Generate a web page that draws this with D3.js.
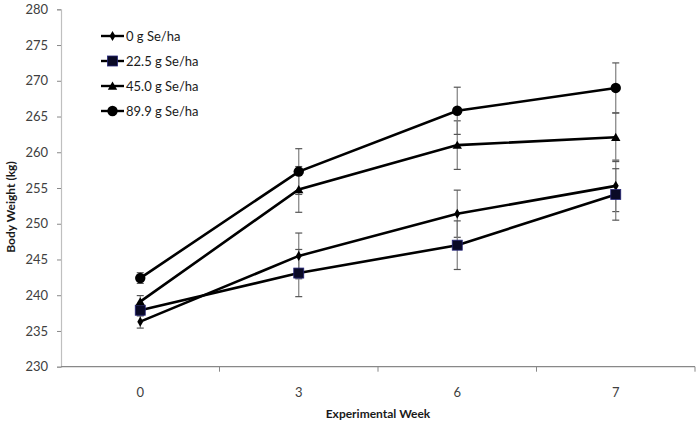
<!DOCTYPE html>
<html><head><meta charset="utf-8">
<script src="https://cdn.jsdelivr.net/npm/d3@7"></script>
<style>
html,body{margin:0;padding:0;background:#fff;}
svg{display:block;}
text{font-family:Lato,"Open Sans",sans-serif;}
</style></head>
<body>
<svg id="chart" width="699" height="426"></svg>
<script>
const weeks = ["0","3","6","7"];
const seriesNames = ["0 g Se/ha","22.5 g Se/ha","45.0 g Se/ha","89.9 g Se/ha"];
const s0 = [236.3, 245.5, 251.4, 255.3];
const s225 = [237.9, 243.1, 247.0, 254.1];
const s45 = [239.1, 254.8, 261.0, 262.1];
const s899 = [242.4, 257.3, 265.8, 269.0];
const e0 = [0.9, 3.2, 3.3, 3.6];
const e225 = [0.8, 3.3, 3.4, 3.6];
const e45 = [0.85, 3.2, 3.4, 3.4];
const e899 = [0.75, 3.2, 3.3, 3.5];
const markers = ["diamond","square","triangle","circle"];
const yTicks = [230,235,240,245,250,255,260,265,270,275,280];

const series = [
  {name: seriesNames[0], vals: s0, errs: e0, m: markers[0]},
  {name: seriesNames[1], vals: s225, errs: e225, m: markers[1]},
  {name: seriesNames[2], vals: s45, errs: e45, m: markers[2]},
  {name: seriesNames[3], vals: s899, errs: e899, m: markers[3]}
];

const svg = d3.select("#chart");
const x = d3.scaleBand().domain(weeks).range([61, 695]).padding(0);
const y = d3.scaleLinear().domain([230, 280]).range([366.7, 9.3]);
const cx = w => x(w) + x.bandwidth() / 2;

// Y axis
const yAxis = svg.append("g").attr("transform", "translate(61,0)")
  .call(d3.axisLeft(y).tickValues(yTicks).tickSize(4).tickPadding(9).tickFormat(d3.format("d")));
yAxis.select(".domain").attr("stroke", "#bfbfbf").attr("stroke-width", 1.2);
yAxis.selectAll(".tick line").attr("stroke", "#888");
yAxis.selectAll(".tick text").attr("fill", "#404040").style("font-size", "13px").style("font-family", "Lato, sans-serif");

// X axis
const xg = svg.append("g").attr("transform", "translate(0,366.7)");
xg.append("line").attr("x1", 61).attr("x2", 695).attr("y1", 0).attr("y2", 0)
  .attr("stroke", "#888").attr("stroke-width", 1.2);
xg.selectAll(".xt").data(weeks).enter().append("line")
  .attr("x1", d => x(d) + x.bandwidth()).attr("x2", d => x(d) + x.bandwidth())
  .attr("y1", 0).attr("y2", 5).attr("stroke", "#888");
xg.selectAll(".xl").data(weeks).enter().append("text")
  .attr("x", d => cx(d)).attr("y", 30).attr("text-anchor", "middle")
  .attr("fill", "#404040").style("font-size", "13px").text(d => d);

// Axis titles
svg.append("text").attr("x", 378).attr("y", 418).attr("text-anchor", "middle")
  .style("font-size", "12px").style("font-weight", "bold").attr("fill", "#1a1a1a")
  .text("Experimental Week");
svg.append("text").attr("transform", "translate(15,207) rotate(-90)").attr("text-anchor", "middle")
  .style("font-size", "12px").style("font-weight", "bold").attr("fill", "#1a1a1a")
  .text("Body Weight (kg)");

// Lines
const line = d3.line().x((d, i) => cx(weeks[i])).y(d => y(d));
series.forEach(s => {
  svg.append("path").datum(s.vals).attr("d", line)
    .attr("fill", "none").attr("stroke", "#000").attr("stroke-width", 2.6);
});

// Error bars
series.forEach(s => {
  const g = svg.append("g");
  s.vals.forEach((v, i) => {
    const px = cx(weeks[i]);
    const top = y(v + s.errs[i]), bot = y(v - s.errs[i]);
    g.append("line").attr("x1", px).attr("x2", px).attr("y1", top).attr("y2", bot)
      .attr("stroke", "#7f7f7f").attr("stroke-width", 1.2);
    [top, bot].forEach(yy => g.append("line").attr("x1", px - 3.5).attr("x2", px + 3.5)
      .attr("y1", yy).attr("y2", yy).attr("stroke", "#555").attr("stroke-width", 1.2));
  });
});

function drawMarker(g, m, px, py, scale) {
  scale = scale || 1;
  if (m === "diamond") {
    g.append("path").attr("d", d3.symbol(d3.symbolDiamond, 30 * scale)())
      .attr("transform", `translate(${px},${py})`).attr("fill", "#000");
  } else if (m === "square") {
    const s = 10 * Math.sqrt(scale);
    g.append("rect").attr("x", px - s / 2).attr("y", py - s / 2).attr("width", s).attr("height", s)
      .attr("fill", "#0a0a26").attr("stroke", "#26267a").attr("stroke-width", 0.8);
  } else if (m === "triangle") {
    g.append("path").attr("d", d3.symbol(d3.symbolTriangle, 38 * scale)())
      .attr("transform", `translate(${px},${py + 1})`).attr("fill", "#000");
  } else {
    g.append("circle").attr("cx", px).attr("cy", py).attr("r", 5.2 * Math.sqrt(scale)).attr("fill", "#000");
  }
}

// Markers
series.forEach(s => {
  const g = svg.append("g");
  s.vals.forEach((v, i) => drawMarker(g, s.m, cx(weeks[i]), y(v)));
});

// Legend
const legY = [36, 61, 86, 111];
series.forEach((s, i) => {
  const g = svg.append("g");
  g.append("line").attr("x1", 101).attr("x2", 124).attr("y1", legY[i]).attr("y2", legY[i])
    .attr("stroke", "#000").attr("stroke-width", 2.4);
  drawMarker(g, s.m, 112.5, legY[i], 1);
  g.append("text").attr("x", 126).attr("y", legY[i] + 4.5).style("font-size", "13px")
    .attr("fill", "#1a1a1a").text(s.name);
});
</script>
</body></html>
